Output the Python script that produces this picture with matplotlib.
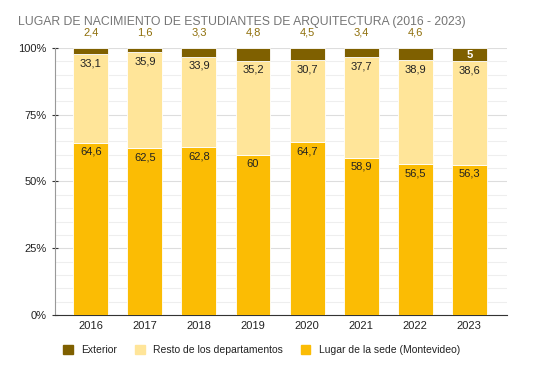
import numpy as np
import matplotlib.pyplot as plt
from matplotlib.patches import Patch

plt.rcParams['font.family'] = ['Liberation Sans', 'DejaVu Sans']

# Datos
anios = ['2016', '2017', '2018', '2019', '2020', '2021', '2022', '2023']
montevideo = [64.6, 62.5, 62.8, 60, 64.7, 58.9, 56.5, 56.3]
resto = [33.1, 35.9, 33.9, 35.2, 30.7, 37.7, 38.9, 38.6]
exterior = [2.4, 1.6, 3.3, 4.8, 4.5, 3.4, 4.6, 5]

c_mvd = '#fbbc04'
c_resto = '#ffe599'
c_ext = '#7f6000'

# Normalizar a 100%
tot = np.array(montevideo) + np.array(resto) + np.array(exterior)
p_mvd = np.array(montevideo) / tot * 100
p_resto = np.array(resto) / tot * 100
p_ext = np.array(exterior) / tot * 100

fig = plt.figure(figsize=(5.37, 3.69), dpi=100)
ax = fig.add_axes([0.1015, 0.1463, 0.842, 0.7237])

x = np.arange(len(anios))
w = 0.647
ax.bar(x, p_mvd, w, color=c_mvd, edgecolor='white', linewidth=0.6, zorder=3)
ax.bar(x, p_resto, w, bottom=p_mvd, color=c_resto, edgecolor='white', linewidth=0.6, zorder=3)
ax.bar(x, p_ext, w, bottom=p_mvd + p_resto, color=c_ext, edgecolor='white', linewidth=0.6, zorder=3)

fmt = lambda v: f'{v:g}'.replace('.', ',')
for i in range(len(anios)):
    ax.text(x[i], p_mvd[i] - 1.5, fmt(montevideo[i]), ha='center', va='top',
            fontsize=8, color='#222222', zorder=4)
    ax.text(x[i], p_mvd[i] + p_resto[i] - 1.5, fmt(resto[i]), ha='center', va='top',
            fontsize=8, color='#222222', zorder=4)
    if exterior[i] >= 5:
        ax.text(x[i], 100 - p_ext[i] / 2, fmt(exterior[i]), ha='center', va='center',
                fontsize=8, color='white', fontweight='bold', zorder=4)
    else:
        ax.text(x[i], 103.8, fmt(exterior[i]), ha='center', va='bottom',
                fontsize=8, color='#8f6f0a', zorder=4, clip_on=False)

ax.set_xlim(-0.67, 7.69)
ax.set_ylim(0, 100)
ax.set_xticks(x)
ax.set_xticklabels(anios, fontsize=8, color='#222222')
ax.set_yticks([0, 25, 50, 75, 100])
ax.set_yticklabels(['0%', '25%', '50%', '75%', '100%'], fontsize=8, color='#222222')
ax.set_yticks(np.arange(0, 101, 5), minor=True)
ax.grid(axis='y', which='major', color='#dddddd', linewidth=0.8, zorder=0)
ax.grid(axis='y', which='minor', color='#eeeeee', linewidth=0.8, zorder=0)
ax.tick_params(axis='x', length=0, pad=4)
ax.tick_params(axis='y', which='major', length=5, direction='inout', color='#333333', pad=3)
ax.tick_params(axis='y', which='minor', length=0)
for s in ['top', 'right']:
    ax.spines[s].set_visible(False)
ax.spines['left'].set_color('#999999')
ax.spines['bottom'].set_color('#333333')

fig.text(0.034, 0.94, 'LUGAR DE NACIMIENTO DE ESTUDIANTES DE ARQUITECTURA (2016 - 2023)',
         fontsize=8.8, color='#757575', ha='left', va='center')

handles = [Patch(color=c_ext, label='Exterior'),
           Patch(color=c_resto, label='Resto de los departamentos'),
           Patch(color=c_mvd, label='Lugar de la sede (Montevideo)')]
fig.legend(handles=handles, loc='center', bbox_to_anchor=(0.487, 0.051), ncol=3,
           frameon=False, fontsize=7.5, handlelength=0.95, handleheight=0.95,
           handletextpad=0.8, columnspacing=1.7, labelcolor='#222222')

fig.savefig('out.png', dpi=100)
